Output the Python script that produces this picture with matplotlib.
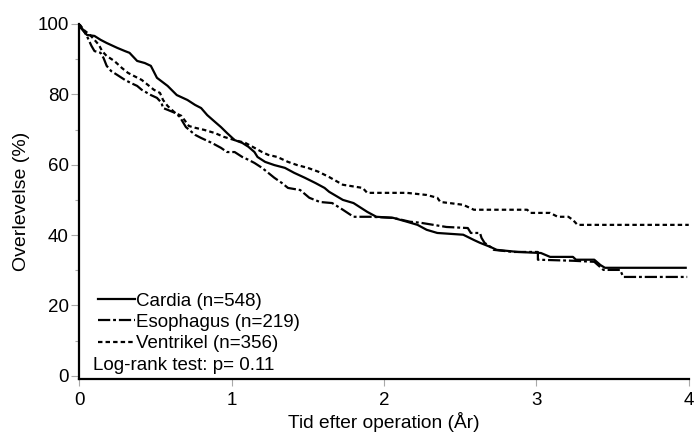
import matplotlib
matplotlib.use("Agg")
import matplotlib.pyplot as plt
from matplotlib.ticker import MultipleLocator

plt.rcParams["font.family"] = ["Liberation Sans", "DejaVu Sans"]

# Kaplan-Meier curves (time in years, survival in %)
cardia_t = [0, 0.01, 0.05, 0.10, 0.14, 0.18, 0.25, 0.30, 0.33, 0.38, 0.43, 0.47, 0.51,
            0.58, 0.64, 0.71, 0.76, 0.80, 0.84, 0.89, 0.93, 0.97, 1.02, 1.07, 1.11,
            1.15, 1.17, 1.22, 1.28, 1.35, 1.41, 1.48, 1.55, 1.61, 1.64, 1.73, 1.80,
            1.89, 1.95, 2.06, 2.15, 2.22, 2.28, 2.35, 2.52, 2.59, 2.63, 2.70, 2.74,
            2.88, 3.03, 3.09, 3.24, 3.26, 3.38, 3.42, 3.45, 3.98]
cardia_s = [100, 98.9, 96.9, 96.6, 95.5, 94.6, 93.2, 92.3, 91.8, 89.5, 88.9, 88.1, 84.7,
            82.4, 79.8, 78.4, 77, 76.1, 74.1, 72.2, 70.7, 69, 67, 66.2, 65.1,
            63.6, 62.2, 60.8, 59.9, 59.1, 57.7, 56.3, 54.8, 53.4, 52.3, 50, 49.1,
            46.6, 45.2, 44.9, 43.8, 42.9, 41.5, 40.6, 40.1, 38.6, 37.8, 36.6, 35.8,
            35.2, 34.9, 33.8, 33.8, 33, 33, 31.5, 30.7, 30.7]

esoph_t = [0, 0.03, 0.05, 0.08, 0.10, 0.14, 0.16, 0.18, 0.21, 0.25, 0.30, 0.34, 0.38,
           0.41, 0.47, 0.51, 0.54, 0.55, 0.58, 0.63, 0.66, 0.70, 0.76, 0.80, 0.87,
           0.93, 0.97, 1.02, 1.07, 1.11, 1.15, 1.20, 1.24, 1.28, 1.33, 1.37, 1.45,
           1.51, 1.58, 1.66, 1.73, 1.80, 1.91, 2.06, 2.17, 2.24, 2.41, 2.55, 2.57,
           2.63, 2.64, 2.66, 2.70, 2.72, 2.85, 3.01, 3.01, 3.24, 3.38, 3.44, 3.55,
           3.57, 3.99]
esoph_s = [100, 98, 96.6, 93.8, 92.3, 91.8, 90.3, 88.1, 86.6, 85.5, 84.1, 83.2, 82.4,
           81.3, 79.8, 79, 77.6, 76.1, 75.6, 74.7, 73.6, 70.7, 68.5, 67.6, 66.2,
           64.8, 63.6, 63.6, 62.2, 61.4, 60.5, 59.1, 57.7, 56.3, 54.8, 53.4, 52.8,
           50.6, 49.4, 49.1, 47.2, 45.2, 45.2, 44.9, 43.8, 43.5, 42.3, 42, 40.6,
           40.6, 39.2, 37.8, 36.6, 35.8, 35.2, 35.2, 33, 32.7, 32.4, 30.1, 30.1,
           28.1, 28.1]

ventr_t = [0, 0.03, 0.07, 0.10, 0.13, 0.15, 0.18, 0.23, 0.28, 0.32, 0.36, 0.41, 0.45,
           0.49, 0.53, 0.55, 0.58, 0.63, 0.67, 0.72, 0.76, 0.82, 0.89, 0.95, 1.02,
           1.09, 1.15, 1.20, 1.24, 1.30, 1.37, 1.43, 1.50, 1.57, 1.64, 1.73, 1.86,
           1.89, 2.15, 2.28, 2.35, 2.37, 2.43, 2.52, 2.59, 2.94, 2.96, 3.09, 3.14,
           3.21, 3.24, 3.27, 4.0]
ventr_s = [100, 98.3, 96.9, 95.5, 94, 92.3, 90.9, 89.5, 87.5, 86.1, 85.2, 84.1, 82.7,
           81.3, 80.4, 78.4, 76.7, 74.7, 73.9, 71, 70.5, 69.9, 69, 67.9, 67,
           66.2, 64.8, 63.6, 62.8, 62.2, 60.8, 59.9, 59.1, 58, 56.5, 54.3, 53.4,
           52, 52, 51.4, 50.6, 49.4, 49.1, 48.6, 47.2, 47.2, 46.3, 46.3, 45.2,
           45.2, 44.3, 42.9, 42.9]

labels = ["Cardia (n=548)", "Esophagus (n=219)", "Ventrikel (n=356)"]
p_text = "Log-rank test: p= 0.11"

fig = plt.figure(figsize=(6.95, 4.36), dpi=100)
ax = fig.add_axes([0.114, 0.130, 0.877, 0.815])

lw = 1.6
ax.plot(cardia_t, cardia_s, color="black", linewidth=lw, linestyle="-",
        label=labels[0])
ax.plot(esoph_t, esoph_s, color="black", linewidth=lw,
        linestyle=(0, (5.5, 1.3, 1.3, 1.3)), label=labels[1])
ax.plot(ventr_t, ventr_s, color="black", linewidth=lw,
        linestyle=(0, (2, 1.4)), label=labels[2])

ax.set_xlim(0, 4)
ax.set_ylim(-1.0, 100)
ax.xaxis.set_major_locator(MultipleLocator(1))
ax.yaxis.set_major_locator(MultipleLocator(20))
ax.yaxis.set_minor_locator(MultipleLocator(10))

for side in ("top", "right"):
    ax.spines[side].set_visible(False)
for side in ("left", "bottom"):
    ax.spines[side].set_linewidth(1.6)

ax.tick_params(which="major", direction="out", length=6, width=0.8, color="#aaaaaa",
               labelsize=13.5, pad=1.5)
ax.tick_params(axis="x", which="major", length=5, pad=4)
ax.tick_params(which="minor", direction="out", length=3, width=0.8, color="#aaaaaa")

ax.set_xlabel("Tid efter operation (År)", fontsize=13.8, labelpad=2)
ax.set_ylabel("Overlevelse (%)", fontsize=14, labelpad=5)

leg = ax.legend(loc="lower left", bbox_to_anchor=(0.018, 0.055), frameon=False,
                fontsize=13.5, handlelength=2.0, handletextpad=0.05,
                labelspacing=0.22, borderaxespad=0)
ax.text(0.023, 0.015, p_text, transform=ax.transAxes, fontsize=13.5,
        ha="left", va="bottom")

fig.savefig("out.png", dpi=100)
